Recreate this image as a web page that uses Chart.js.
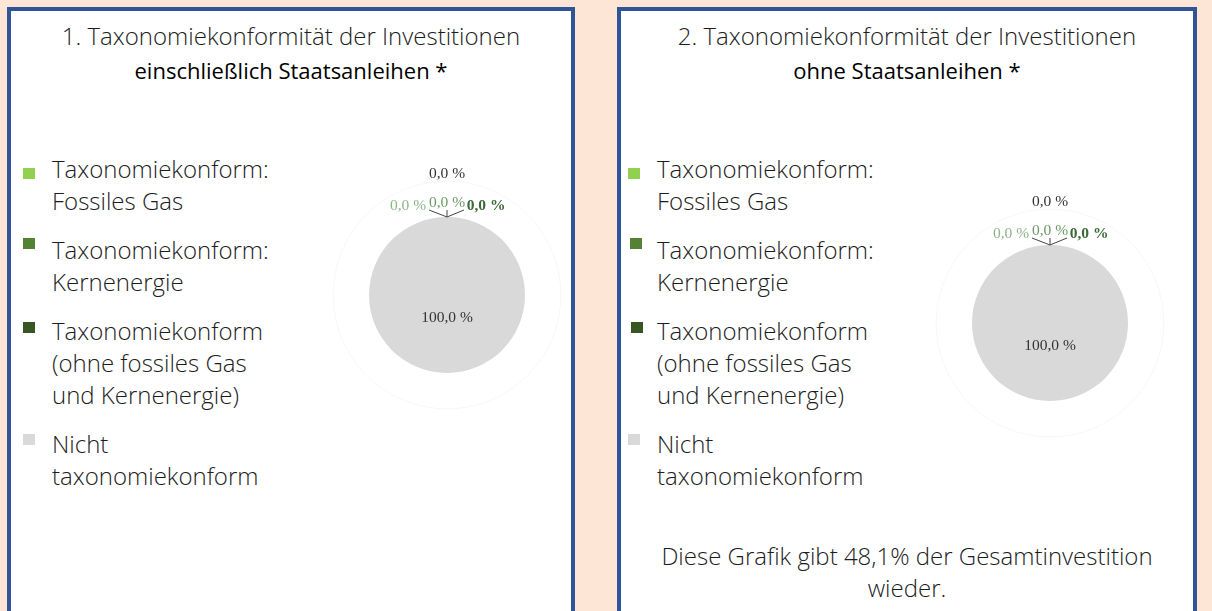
<!DOCTYPE html>
<html lang="de">
<head>
<meta charset="UTF-8" />
<title>Taxonomiekonformität</title>
<script src="https://cdn.jsdelivr.net/npm/chart.js"></script>
<style>
  body { margin: 0; width: 1212px; height: 611px; background: #fde6d6; overflow: hidden; font-family: "Open Sans", sans-serif; }
  .panel { position: absolute; top: 7px; height: 640px; background: #fff; border: 4px solid #2f5597; box-sizing: border-box; }
  .title { position: absolute; left: 0; right: 0; text-align: center; color: #1c1c1c; font-size: 24px; line-height: 34px; top: 8px; font-weight: 300; }
  .title b { font-weight: 400; font-size: 22px; color: #000; }
  .legend { position: absolute; left: 0; top: 142px; }
  .item { position: relative; font-size: 24px; line-height: 32px; color: #1c1c1c; margin-bottom: 17px; font-weight: 300; }
  .swatch { position: absolute; width: 12px; height: 11px; }
  .pie { position: absolute; width: 240px; height: 300px; }
  .note { position: absolute; left: 0; right: 0; top: 529px; text-align: center; font-size: 24px; line-height: 32px; color: #1c1c1c; font-weight: 300; }
</style>
</head>
<body>

<div class="panel" id="p1" style="left:7px; width:568px;">
  <div class="title">1. Taxonomiekonformität der Investitionen<br><b>einschließlich Staatsanleihen *</b></div>
  <div class="legend" id="legend1"></div>
  <div class="pie" style="left:316px; top:134px;"><canvas id="pie1"></canvas></div>
</div>

<div class="panel" id="p2" style="left:617px; width:580px;">
  <div class="title">2. Taxonomiekonformität der Investitionen<br><b>ohne Staatsanleihen *</b></div>
  <div class="legend" id="legend2"></div>
  <div class="pie" style="left:309px; top:162px;"><canvas id="pie2"></canvas></div>
  <div class="note">Diese Grafik gibt 48,1% der Gesamtinvestition<br>wieder.</div>
</div>

<script>
  // categories (the 4th one has no legend entry in the original)
  const categories = [
    ['Taxonomiekonform:', 'Fossiles Gas'],
    ['Taxonomiekonform:', 'Kernenergie'],
    ['Taxonomiekonform', '(ohne fossiles Gas', 'und Kernenergie)'],
    [],
    ['Nicht', 'taxonomiekonform']
  ];
  const valuesInclBonds = [0, 0, 0, 0, 100];
  const valuesExclBonds = [0, 0, 0, 0, 100];
  const sliceColors = ['#92d050', '#548235', '#375623', '#ffffff', '#d9d9d9'];
  const labelColors = ['#8cb587', '#6c9b66', '#3c6a37', '#333333', '#333333'];

  const swatchTop = [15, 4, 7, 0, 6];

  function buildLegend(id, textX, swatchX) {
    const el = document.getElementById(id);
    categories.forEach((lines, i) => {
      if (!lines.length) return;
      const item = document.createElement('div');
      item.className = 'item';
      item.style.paddingLeft = textX + 'px';
      item.innerHTML = `<span class="swatch" style="left:${swatchX[i]}px; top:${swatchTop[i]}px; background:${sliceColors[i]}"></span>` + lines.join('<br>');
      el.appendChild(item);
    });
  }
  buildLegend('legend1', 41, [12, 12, 12, 0, 12]);
  buildLegend('legend2', 36, [7, 9, 10, 0, 7]);

  // percent labels with leader lines, like the office chart
  const pctLabels = {
    id: 'pctLabels',
    beforeDatasetsDraw(chart) {
      const arc = chart.getDatasetMeta(0).data[0];
      const ctx = chart.ctx;
      ctx.save();
      ctx.strokeStyle = '#f7f7f7';
      ctx.lineWidth = 1;
      ctx.beginPath();
      ctx.arc(arc.x, arc.y, arc.outerRadius * 1.46, 0, Math.PI * 2);
      ctx.stroke();
      ctx.restore();
    },
    afterDatasetsDraw(chart, args, opts) {
      const ctx = chart.ctx;
      const values = chart.data.datasets[0].data;
      chart.getDatasetMeta(0).data.forEach((a, i) => {
        const mid = (a.startAngle + a.endAngle) / 2;
        const txt = values[i].toFixed(1).replace('.', ',') + ' %';
        let x, y;
        ctx.save();
        if (values[i] > 0) {
          x = a.x + Math.cos(mid) * a.outerRadius * 0.3;
          y = a.y + Math.sin(mid) * a.outerRadius * 0.3;
        } else {
          const ax = a.x + Math.cos(mid) * a.outerRadius;
          const ay = a.y + Math.sin(mid) * a.outerRadius;
          const off = opts.offsets[i];
          x = ax + off[0];
          y = ay + off[1];
          if (off[2]) {
            ctx.strokeStyle = '#444';
            ctx.lineWidth = 1;
            ctx.beginPath();
            ctx.moveTo(ax + off[2][0], ay + off[2][1]);
            ctx.lineTo(ax, ay);
            ctx.stroke();
          }
        }
        ctx.fillStyle = labelColors[i];
        ctx.font = (i === 2 ? 'bold ' : '') + '15.5px "Liberation Serif", serif';
        ctx.textAlign = 'center';
        ctx.textBaseline = 'middle';
        ctx.fillText(txt, x, y);
        ctx.restore();
      });
    }
  };

  function makePie(id, values) {
    return new Chart(document.getElementById(id), {
      type: 'pie',
      data: {
        labels: categories.map(l => l.join(' ')),
        datasets: [{ data: values, backgroundColor: sliceColors, borderWidth: 0 }]
      },
      options: {
        responsive: true,
        maintainAspectRatio: false,
        animation: false,
        radius: 78,
        plugins: {
          legend: { display: false },
          tooltip: { enabled: false },
          pctLabels: { offsets: [[-39, -11, [-18, -7]], [0, -14, [0, -7]], [39, -11, [17, -7]], [0, -43], [0, 0]] }
        }
      },
      plugins: [pctLabels]
    });
  }

  makePie('pie1', valuesInclBonds);
  makePie('pie2', valuesExclBonds);
</script>
</body>
</html>
